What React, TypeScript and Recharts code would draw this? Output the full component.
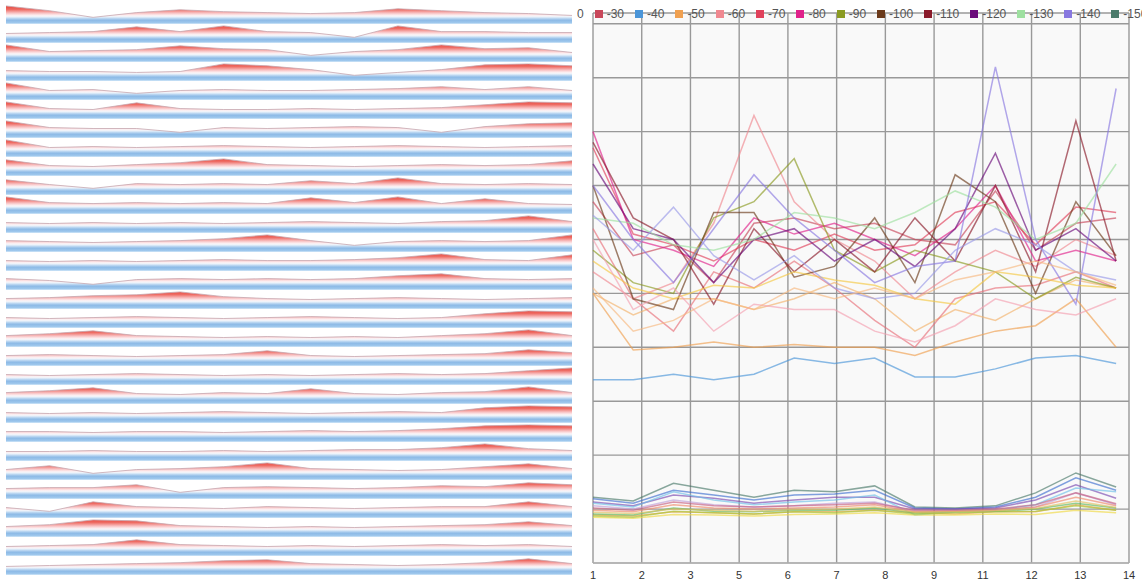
import { AreaChart, Area, LineChart, Line, XAxis, YAxis, CartesianGrid } from "recharts";

// x positions of the 14 samples
const xValues = [1, 2, 3, 4, 5, 6, 7, 8, 9, 10, 11, 12, 13, 14];

const seriesNames = [
  "-10", "-20", "-30", "-40", "-50", "-60", "-70", "-80", "-90", "-100",
  "-110", "-120", "-130", "-140", "-150", "-160", "-170", "-180", "-190", "-200",
  "-210", "-220", "-230", "-240", "-250", "-260", "-270", "-280", "-290", "-300",
];

const seriesColors = [
  "#f2b26b", "#e8707a", "#c8475a", "#4a95d8", "#f0a050", "#f08890", "#e0405a", "#e0208a", "#8a9a20", "#6b3a1a",
  "#8a1a2a", "#6a0a7a", "#9ee0a0", "#8878e0", "#4a7a6a", "#f5c842", "#f4a0b0", "#9a9ae8", "#f7b880", "#3d6fd0",
  "#7a4ab0", "#6ec0e8", "#c0a0d8", "#e8a040", "#f0d840", "#a8c838", "#5cb85c", "#f08868", "#c86080", "#e0c060",
];

const lineValues = [
  [50, 46, 49, 49, 47, 49, 52, 49, 43, 47, 45, 49, 52.5, 51],
  [62, 49, 43, 54, 51, 56, 51, 45, 40, 49, 51, 51.5, 54, 51],
  [67, 57, 59, 52, 63, 64, 62, 63, 60, 59, 69, 58, 63, 64],
  [34, 34, 35, 34, 35, 38, 37, 38, 34.5, 34.5, 36, 38, 38.5, 37],
  [50, 39.5, 40, 41, 40, 40.5, 40, 40, 38.5, 41, 43, 44, 49, 40],
  [54, 49, 52, 63, 83, 67, 60, 56, 49, 54, 58, 55, 60, 57],
  [77, 61, 59, 56, 60, 58, 61, 58, 59, 65, 67, 59, 66, 65],
  [80, 60, 58, 55, 64, 61, 63, 60, 57, 62, 70, 56, 58, 56],
  [58, 52, 50, 64, 67, 75, 58, 54, 58, 56, 54, 49, 53, 51],
  [70, 49, 47, 65, 65, 53, 55, 64, 52, 72, 67, 50, 67, 57],
  [78, 64, 60, 48, 62, 54, 60, 54, 64, 56, 70, 54, 82, 56],
  [74, 62, 60, 52, 60, 62, 56, 60, 55, 62, 76, 58, 62, 56],
  [64, 63, 59, 58, 60, 65, 64, 62, 65, 69, 66, 60, 63, 74],
  [70, 60, 52, 62, 72, 64, 58, 52, 55, 56, 92, 60, 48, 88],
  [12.2, 11.5, 14.8, 13.5, 12.2, 13.5, 13.2, 14.3, 10.4, 10.2, 10.6, 13, 16.7, 14.1],
  [56, 51, 49, 51.5, 51, 54, 52.5, 51.5, 49, 48, 54, 53, 51.5, 51],
  [60, 47, 51, 43, 48, 47, 47, 43, 41, 44, 49, 47, 46, 49],
  [64.5, 58, 66, 57, 52.5, 57, 51, 49, 50, 58, 62, 59, 54, 52.5],
  [51, 43, 45, 49, 47, 51, 49, 51, 49, 52.5, 54, 56, 54, 51.5],
  [11.9, 11.1, 13.5, 12.6, 11.7, 12.6, 12.8, 13.5, 10.2, 10, 10.4, 12.2, 15.8, 13.5],
  [11.3, 10.6, 12.6, 12, 11.1, 11.7, 12.2, 12.2, 10, 10, 10.2, 11.7, 14.5, 12],
  [11.1, 10.4, 13.2, 11.7, 10.8, 11.3, 11.7, 12.6, 8.9, 9.5, 9.8, 10.8, 13.9, 13.2],
  [10.6, 10, 11.7, 10.8, 10.4, 10.6, 11.1, 11.3, 9.6, 9.6, 9.8, 10.4, 13, 10.8],
  [8.9, 8.7, 9.5, 9.3, 9.1, 9.5, 9.5, 9.8, 9.3, 9.1, 9.5, 9.5, 10.8, 9.8],
  [8.5, 8.3, 9, 8.9, 8.7, 9, 9.1, 9.3, 8.9, 8.9, 9.1, 9, 9.8, 9.3],
  [8.7, 8.5, 9.6, 9.3, 9.1, 9.5, 9.3, 9.8, 9.1, 9.3, 9.5, 9.6, 10.6, 9.8],
  [9.1, 8.9, 10.2, 9.6, 9.5, 9.8, 9.8, 10.2, 9.3, 9.5, 9.6, 10, 11.1, 10.2],
  [9.8, 9.5, 10.8, 10.2, 10, 10.2, 10.4, 10.8, 9.5, 9.6, 9.8, 10.4, 12.2, 10.6],
  [10.2, 9.8, 11.3, 10.6, 10.4, 10.6, 10.8, 11.1, 9.8, 9.8, 10, 10.8, 13, 11],
  [9.4, 9.2, 10, 9.8, 9.6, 9.9, 10, 10.4, 9.4, 9.5, 9.7, 10.1, 11.5, 10.3],
];

// left panel: one strip per row, 0..1 inside the strip
const horizonRows = [
  [0.95, 0.7, 0.35, 0.6, 0.75, 0.65, 0.6, 0.55, 0.6, 0.8, 0.7, 0.6, 0.55, 0.45],
  [0.5, 0.55, 0.6, 0.85, 0.6, 0.9, 0.6, 0.55, 0.3, 0.9, 0.6, 0.6, 0.55, 0.55],
  [0.9, 0.55, 0.6, 0.65, 0.85, 0.7, 0.65, 0.35, 0.55, 0.65, 0.9, 0.7, 0.75, 0.5],
  [0.55, 0.5, 0.5, 0.45, 0.5, 0.9, 0.8, 0.6, 0.3, 0.45, 0.6, 0.85, 0.9, 0.8],
  [0.9, 0.5, 0.55, 0.35, 0.5, 0.55, 0.5, 0.5, 0.55, 0.6, 0.7, 0.55, 0.7, 0.5],
  [0.9, 0.55, 0.5, 0.85, 0.55, 0.5, 0.5, 0.55, 0.5, 0.55, 0.6, 0.75, 0.9, 0.85],
  [0.9, 0.55, 0.5, 0.5, 0.3, 0.55, 0.5, 0.55, 0.6, 0.55, 0.3, 0.6, 0.75, 0.8],
  [0.9, 0.5, 0.55, 0.5, 0.55, 0.6, 0.55, 0.5, 0.55, 0.6, 0.55, 0.5, 0.55, 0.6],
  [0.85, 0.55, 0.5, 0.6, 0.7, 0.9, 0.6, 0.55, 0.5, 0.55, 0.6, 0.55, 0.6, 0.8],
  [0.8, 0.55, 0.35, 0.6, 0.55, 0.6, 0.55, 0.75, 0.6, 0.9, 0.6, 0.55, 0.6, 0.55],
  [0.9, 0.6, 0.55, 0.6, 0.55, 0.6, 0.55, 0.85, 0.6, 0.9, 0.55, 0.8, 0.55, 0.5],
  [0.55, 0.5, 0.55, 0.5, 0.55, 0.5, 0.55, 0.6, 0.55, 0.5, 0.6, 0.65, 0.9, 0.6],
  [0.6, 0.55, 0.5, 0.55, 0.6, 0.7, 0.9, 0.6, 0.35, 0.55, 0.6, 0.55, 0.6, 0.9],
  [0.55, 0.5, 0.55, 0.5, 0.55, 0.6, 0.55, 0.55, 0.6, 0.7, 0.9, 0.6, 0.55, 0.85],
  [0.6, 0.5, 0.3, 0.55, 0.6, 0.55, 0.6, 0.55, 0.6, 0.75, 0.85, 0.6, 0.55, 0.6],
  [0.55, 0.6, 0.7, 0.75, 0.9, 0.65, 0.55, 0.5, 0.55, 0.6, 0.55, 0.5, 0.55, 0.6],
  [0.55, 0.5, 0.55, 0.6, 0.55, 0.5, 0.55, 0.6, 0.55, 0.5, 0.55, 0.75, 0.9, 0.85],
  [0.6, 0.7, 0.85, 0.6, 0.55, 0.5, 0.55, 0.5, 0.55, 0.5, 0.6, 0.7, 0.9, 0.6],
  [0.55, 0.6, 0.55, 0.5, 0.55, 0.6, 0.8, 0.55, 0.5, 0.55, 0.6, 0.65, 0.85, 0.7],
  [0.55, 0.5, 0.55, 0.6, 0.55, 0.5, 0.55, 0.5, 0.55, 0.6, 0.55, 0.6, 0.75, 0.9],
  [0.6, 0.7, 0.85, 0.55, 0.5, 0.6, 0.55, 0.8, 0.55, 0.5, 0.6, 0.65, 0.9, 0.6],
  [0.55, 0.5, 0.55, 0.5, 0.55, 0.6, 0.55, 0.5, 0.55, 0.6, 0.55, 0.8, 0.9, 0.85],
  [0.55, 0.55, 0.5, 0.55, 0.55, 0.5, 0.55, 0.6, 0.55, 0.6, 0.7, 0.85, 0.9, 0.85],
  [0.5, 0.5, 0.55, 0.5, 0.5, 0.55, 0.5, 0.55, 0.6, 0.6, 0.7, 0.9, 0.65, 0.55],
  [0.55, 0.75, 0.35, 0.55, 0.6, 0.7, 0.9, 0.6, 0.55, 0.5, 0.55, 0.7, 0.85, 0.6],
  [0.55, 0.6, 0.6, 0.75, 0.35, 0.6, 0.65, 0.6, 0.55, 0.6, 0.7, 0.65, 0.85, 0.75],
  [0.55, 0.35, 0.85, 0.6, 0.55, 0.5, 0.6, 0.55, 0.5, 0.55, 0.6, 0.6, 0.85, 0.6],
  [0.55, 0.65, 0.9, 0.85, 0.6, 0.55, 0.5, 0.55, 0.5, 0.55, 0.6, 0.65, 0.8, 0.6],
  [0.5, 0.55, 0.6, 0.85, 0.6, 0.55, 0.5, 0.55, 0.5, 0.55, 0.6, 0.55, 0.6, 0.5],
  [0.45, 0.5, 0.55, 0.6, 0.65, 0.75, 0.8, 0.6, 0.55, 0.5, 0.55, 0.65, 0.85, 0.6],
];

const X_MAX = 14.32;
const xTicks = Array.from({ length: 12 }, (_, k) => 1 + (k * (X_MAX - 1)) / 11);
const yTicks = [0, 10, 20, 30, 40, 50, 60, 70, 80, 90, 100];

const ROW_H = 19;
const LEFT_W = 566;
const PANEL_LEFT = 577;
const PANEL_W = 1142 - PANEL_LEFT;

const lineData = xValues.map((x, i) => {
  const row: Record<string, number> = { x };
  lineValues.forEach((vals, s) => {
    row["s" + s] = vals[i];
  });
  return row;
});

function HorizonRow({ values, idx }: { values: number[]; idx: number }) {
  const data = values.map((v, i) => ({ i, v }));
  const id = "hz" + idx;
  return (
    <AreaChart width={LEFT_W} height={ROW_H} data={data} margin={{ top: 0, right: 0, bottom: 0, left: 0 }}>
      <defs>
        <linearGradient id={id} gradientUnits="userSpaceOnUse" x1="0" y1="0" x2="0" y2={ROW_H}>
          <stop offset="0" stopColor="#e53b30" />
          <stop offset="0.24" stopColor="#ee6c64" />
          <stop offset="0.42" stopColor="#f8bfc0" />
          <stop offset="0.54" stopColor="#fdeef0" />
          <stop offset="0.62" stopColor="#edf4fb" />
          <stop offset="0.7" stopColor="#bdd8f2" />
          <stop offset="0.8" stopColor="#8dbae6" />
          <stop offset="0.92" stopColor="#9cc6ec" />
          <stop offset="1" stopColor="#d2e7f8" />
        </linearGradient>
      </defs>
      <XAxis dataKey="i" type="number" domain={[0, 13]} hide />
      <YAxis domain={[0, 1]} hide />
      <Area
        type="linear"
        dataKey="v"
        baseValue={0}
        stroke="#c6a8b0"
        strokeOpacity={0.8}
        strokeWidth={1}
        fill={`url(#${id})`}
        fillOpacity={1}
        isAnimationActive={false}
      />
    </AreaChart>
  );
}

export default function App() {
  return (
    <div
      style={{
        position: "absolute",
        left: 0,
        top: 0,
        width: 1142,
        height: 580,
        background: "#fff",
        fontFamily: "'Liberation Sans', Arial, sans-serif",
        overflow: "hidden",
      }}
    >
      {/* left: stacked strips */}
      <div style={{ position: "absolute", left: 6, top: 5, width: LEFT_W }}>
        {horizonRows.map((vals, r) => (
          <div key={r} style={{ height: ROW_H }}>
            <HorizonRow values={vals} idx={r} />
          </div>
        ))}
      </div>

      {/* right: line chart */}
      <div
        style={{ position: "absolute", left: PANEL_LEFT, top: 0, width: PANEL_W, height: 580, overflow: "hidden" }}
      >
        <LineChart
          width={PANEL_W}
          height={580}
          data={lineData}
          margin={{ top: 13, right: 13, bottom: 0, left: 593 - PANEL_LEFT }}
        >
          <CartesianGrid stroke="#999" strokeWidth={1.4} fill="#f9f9f9" />
          <XAxis
            dataKey="x"
            type="number"
            domain={[1, X_MAX]}
            ticks={xTicks}
            tickFormatter={(v) => String(Math.round(v))}
            height={17}
            tickLine={false}
            axisLine={{ stroke: "#bbb" }}
            tick={{ fontSize: 11, fill: "#333" }}
            interval={0}
          />
          <YAxis hide domain={[0, 102]} ticks={yTicks} />
          {seriesNames.map((name, s) => (
            <Line
              key={name}
              name={name}
              dataKey={"s" + s}
              type="linear"
              stroke={seriesColors[s]}
              strokeWidth={1.5}
              strokeOpacity={0.65}
              dot={false}
              isAnimationActive={false}
            />
          ))}
        </LineChart>

        {/* legend, wider than the panel and clipped as in the original */}
        <div
          style={{
            position: "absolute",
            top: 8,
            left: 595 - PANEL_LEFT - 81,
            display: "flex",
            whiteSpace: "nowrap",
            fontSize: 12,
            color: "#555",
            lineHeight: "12px",
          }}
        >
          {seriesNames.map((name, s) => (
            <div key={name} style={{ display: "flex", alignItems: "center", marginRight: 11 }}>
              <span
                style={{ width: 8, height: 8, background: seriesColors[s], display: "inline-block", marginRight: 4 }}
              />
              <span>{name}</span>
            </div>
          ))}
        </div>
      </div>
    </div>
  );
}
